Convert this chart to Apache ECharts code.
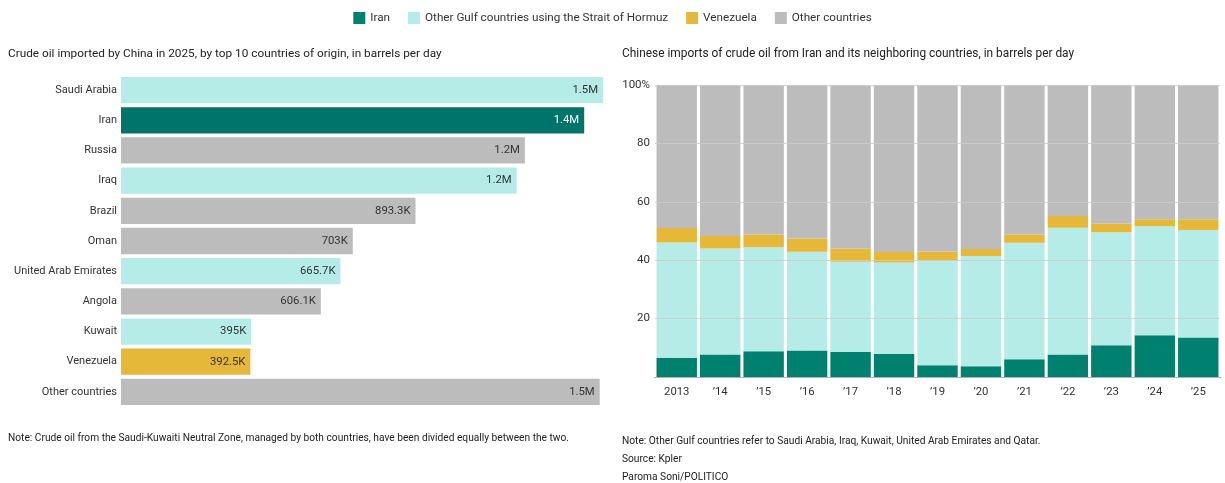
<!DOCTYPE html>
<html>
<head>
<meta charset="utf-8">
<script src="https://cdn.jsdelivr.net/npm/echarts@6/dist/echarts.min.js"></script>
<style>
  html, body { margin: 0; padding: 0; background: #fff; }
  #chart { width: 1225px; height: 483px; }
</style>
</head>
<body>
<div id="chart"></div>
<script>
// left chart: 2025 imports, thousand barrels per day
const countries = ['Saudi Arabia', 'Iran', 'Russia', 'Iraq', 'Brazil', 'Oman', 'United Arab Emirates', 'Angola', 'Kuwait', 'Venezuela', 'Other countries']
const imports2025 = [1462, 1405, 1225, 1200, 893.3, 703, 665.7, 606.1, 395, 392.5, 1452]
const countryGroup = ['gulf', 'iran', 'other', 'gulf', 'other', 'other', 'gulf', 'other', 'gulf', 'venezuela', 'other']

// right chart: share of imports, percent
const years = ['2013', '\u201914', '\u201915', '\u201916', '\u201917', '\u201918', '\u201919', '\u201920', '\u201921', '\u201922', '\u201923', '\u201924', '\u201925']
const shareIran = [6.6, 7.7, 8.8, 9.1, 8.6, 8.0, 4.0, 3.7, 6.1, 7.7, 10.9, 14.3, 13.5]
const shareGulf = [39.5, 36.3, 35.6, 33.8, 30.9, 31.2, 35.9, 37.7, 39.9, 43.4, 38.7, 37.3, 36.8]
const shareVenezuela = [4.9, 4.3, 4.4, 4.5, 4.5, 3.6, 3.1, 2.4, 2.8, 4.0, 3.0, 2.4, 3.7]
const shareOther = [49.0, 51.7, 51.2, 52.6, 56.0, 57.2, 57.0, 56.2, 51.2, 44.9, 47.4, 46.0, 46.0]

const FONT = 'Roboto, "Noto Sans", sans-serif'
const colors = {
    iran: '#00806f',
    gulf: '#b5ece8',
    venezuela: '#e6b83a',
    other: '#bcbcbc'
}

function fmt(v) {
    return v >= 1000 ? (v / 1000).toFixed(1) + 'M' : v + 'K'
}

const chart = echarts.init(document.getElementById('chart'), null, { renderer: 'canvas' })

const barData = imports2025.map((v, i) => ({
    value: v,
    itemStyle: { color: countryGroup[i] === 'iran' ? '#00736a' : colors[countryGroup[i]] },
    label: { color: countryGroup[i] === 'iran' ? '#fff' : '#333' }
}))

const stack = (name, data, color) => ({
    type: 'bar',
    name: name,
    stack: 'share',
    xAxisIndex: 1,
    yAxisIndex: 1,
    data: data,
    barCategoryGap: '7%',
    itemStyle: { color: color },
    emphasis: { disabled: true }
})

const smallText = { fontFamily: FONT, fontWeight: 'normal', color: '#222' }

const option = {
    animation: false,
    textStyle: { fontFamily: FONT },
    legend: {
        top: 7,
        left: 'center',
        icon: 'rect',
        itemWidth: 12,
        itemHeight: 12,
        itemGap: 18,
        textStyle: { fontFamily: FONT, fontSize: 11.7, color: '#333' },
        data: ['Iran', 'Other Gulf countries using the Strait of Hormuz', 'Venezuela', 'Other countries']
    },
    title: [
        { text: 'Crude oil imported by China in 2025, by top 10 countries of origin, in barrels per day', left: 3, top: 43,
          textStyle: Object.assign({ fontSize: 11.8 }, smallText) },
        { text: 'Chinese imports of crude oil from Iran and its neighboring countries, in barrels per day', left: 617, top: 43,
          textStyle: Object.assign({ fontSize: 11.9 }, smallText) },
        { text: 'Note: Crude oil from the Saudi-Kuwaiti Neutral Zone, managed by both countries, have been divided equally between the two.', left: 3, top: 424,
          textStyle: Object.assign({ fontSize: 10.2, lineHeight: 18 }, smallText) },
        { text: 'Note: Other Gulf countries refer to Saudi Arabia, Iraq, Kuwait, United Arab Emirates and Qatar.\nSource: Kpler\nParoma Soni/POLITICO', left: 617, top: 427,
          textStyle: Object.assign({ fontSize: 10.2, lineHeight: 18 }, smallText) }
    ],
    grid: [
        { left: 121, width: 482, top: 75, height: 332, outerBoundsMode: 'none' },
        { left: 655, right: 5, top: 85, height: 292, outerBoundsMode: 'none' }
    ],
    xAxis: [
        { gridIndex: 0, type: 'value', min: 0, max: 1462, show: false },
        { gridIndex: 1, type: 'category', data: years,
          axisLine: { lineStyle: { color: '#222' } },
          axisTick: { alignWithLabel: true, length: 5, lineStyle: { color: '#222' } },
          axisLabel: { color: '#333', fontSize: 11.3, margin: 10, fontFamily: FONT } }
    ],
    yAxis: [
        { gridIndex: 0, type: 'category', data: countries, inverse: true,
          axisLine: { show: false }, axisTick: { show: false },
          axisLabel: { color: '#333', fontSize: 11, margin: 4, fontFamily: FONT } },
        { gridIndex: 1, type: 'value', min: 0, max: 100, interval: 20, z: 3,
          splitLine: { lineStyle: { color: 'rgba(205,205,205,0.85)' } },
          axisLabel: { color: '#333', fontSize: 11.5, margin: 5, fontFamily: FONT,
                       formatter: v => v === 100 ? '100%' : (v === 0 ? '' : v) } }
    ],
    series: [
        {
            type: 'bar',
            xAxisIndex: 0,
            yAxisIndex: 0,
            data: barData,
            barCategoryGap: '13%',
            emphasis: { disabled: true },
            label: {
                show: true,
                position: 'insideRight',
                distance: 5,
                fontSize: 11.3,
                fontFamily: FONT,
                formatter: p => fmt(p.value)
            }
        },
        stack('Iran', shareIran, colors.iran),
        stack('Other Gulf countries using the Strait of Hormuz', shareGulf, colors.gulf),
        stack('Venezuela', shareVenezuela, colors.venezuela),
        stack('Other countries', shareOther, colors.other)
    ]
}

chart.setOption(option)
</script>
</body>
</html>
